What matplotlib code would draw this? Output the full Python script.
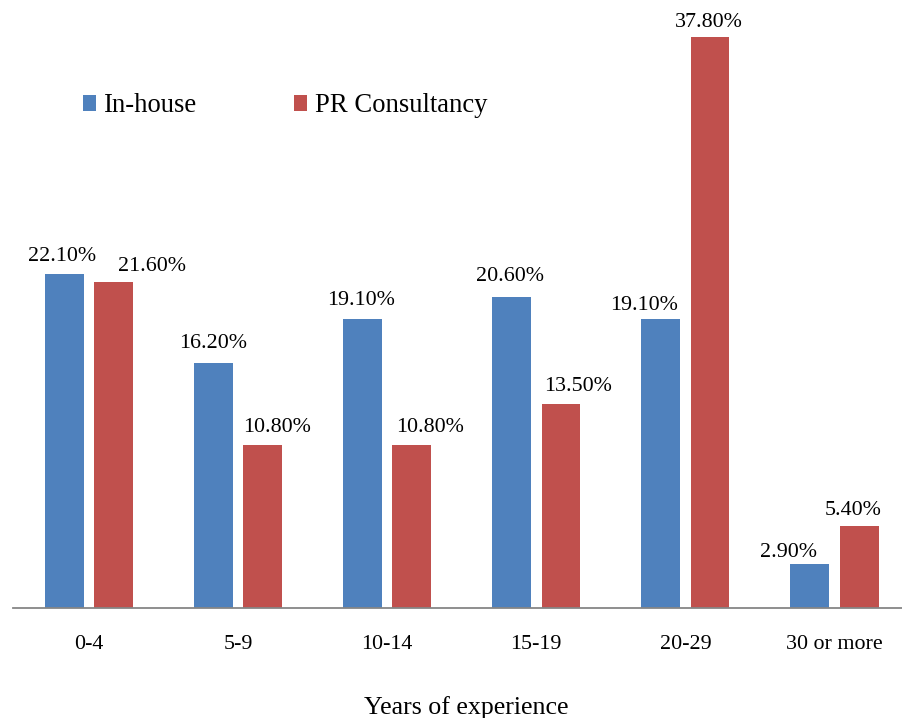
import matplotlib
matplotlib.use("Agg")
import matplotlib.pyplot as plt
import numpy as np

categories = ["0-4", "5-9", "10-14", "15-19", "20-29", "30 or more"]
in_house = [22.1, 16.2, 19.1, 20.6, 19.1, 2.9]
pr_consultancy = [21.6, 10.8, 10.8, 13.5, 37.8, 5.4]
series_names = ["In-house", "PR Consultancy"]
x_title = "Years of experience"

# hand-placed nudges for the value labels (pixels: dx, gap above bar top)
in_house_label_nudge = [(-1.6, 13.3), (0, 14.7), (-1.5, 14), (-1.2, 16), (-16.2, 9), (-21.7, 6.7)]
pr_label_nudge = [(38.5, 10.6), (13.8, 13), (18.2, 13), (17.2, 12.7), (-0.8, 10.4), (-6, 11)]

BLUE = "#4F81BD"
RED = "#C0504D"

plt.rcParams["font.family"] = ["Liberation Serif", "DejaVu Serif"]

W, H = 902, 718
fig = plt.figure(figsize=(W / 100, H / 100), dpi=100)

# axes placed in pixel terms: baseline at y=607.5 from top, spanning x 13..902
ax_left, ax_right = 13, 902
ax_bottom_px = 607.5
ax = fig.add_axes([ax_left / W, (H - ax_bottom_px) / H,
                   (ax_right - ax_left) / W, ax_bottom_px / H])

x = np.arange(len(categories))
bw = 0.26
off = 0.166
b1 = ax.bar(x - off, in_house, bw, color=BLUE, label=series_names[0])
b2 = ax.bar(x + off, pr_consultancy, bw, color=RED, label=series_names[1])

ax.set_xlim(-0.509, 5.453)
ax.set_ylim(0, 40.26)

for bars, vals, nudges in ((b1, in_house, in_house_label_nudge),
                           (b2, pr_consultancy, pr_label_nudge)):
    for rect, v, (dx, dy) in zip(bars, vals, nudges):
        ax.annotate(f"{v:.2f}%", (rect.get_x() + rect.get_width() / 2, v),
                    xytext=(dx, dy), textcoords="offset pixels",
                    ha="center", va="baseline", fontsize=15.8, color="#000000")

for side in ("left", "right", "top"):
    ax.spines[side].set_visible(False)
ax.spines["bottom"].set_color("#868686")
ax.spines["bottom"].set_linewidth(1.3)
ax.set_yticks([])
ax.set_xticks(x)
ax.set_xticklabels(categories, fontsize=15.8)
ax.tick_params(axis="x", length=0, pad=19.5)

ax.set_xlabel(x_title, fontsize=18.6)
ax.xaxis.set_label_coords((466 - ax_left) / (ax_right - ax_left), -89 / ax_bottom_px)

leg = ax.legend(handles=[b1, b2], loc="center left", ncol=2, frameon=False,
                fontsize=19.2, handlelength=0.5, handleheight=0.5,
                handletextpad=0.3, columnspacing=3.63, borderpad=0,
                borderaxespad=0,
                bbox_to_anchor=(82.7 / W, (H - 106) / H),
                bbox_transform=fig.transFigure)

fig.savefig("out.png", dpi=100)
